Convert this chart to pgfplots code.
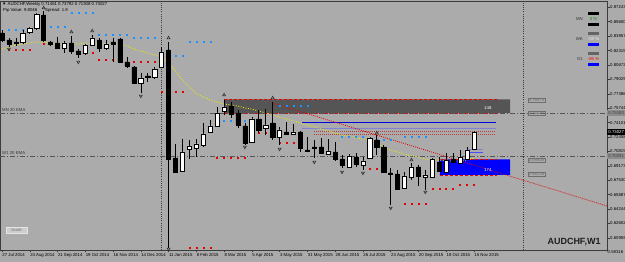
\documentclass[border=0pt]{standalone}
\usepackage{pgfplots}
\pgfplotsset{compat=1.18}
\usepackage{pgfplotstable}
\usepackage{fontspec}
\setmainfont{Liberation Sans}
\definecolor{bgc}{RGB}{171,171,171}
\definecolor{framec}{RGB}{60,60,60}
\definecolor{zonegray}{RGB}{85,85,85}
\definecolor{dashc}{RGB}{85,85,85}
\definecolor{dotblue}{RGB}{30,144,255}
\definecolor{dotred}{RGB}{230,0,0}
\definecolor{emay}{RGB}{235,235,0}
\definecolor{purp}{RGB}{130,130,210}
\definecolor{fracc}{RGB}{45,45,45}
\definecolor{lblc}{RGB}{110,110,110}
\definecolor{axfill}{RGB}{140,140,140}
\definecolor{pangray}{RGB}{100,100,100}
\definecolor{pangreen}{RGB}{0,150,0}
\definecolor{symc}{RGB}{30,30,30}
\definecolor{btnc}{RGB}{205,205,205}
\newcommand\tinyf{\fontsize{4.3bp}{5bp}\selectfont}

\pgfplotstableread{
i o h l c
0 0.84313 0.84655 0.83287 0.83515
1 0.83515 0.83743 0.82717 0.83059
2 0.83287 0.83743 0.82831 0.83173
3 0.83287 0.84655 0.83059 0.84313
4 0.84427 0.84997 0.84199 0.84883
5 0.84883 0.86593 0.84655 0.86479
6 0.86365 0.86821 0.83287 0.83515
7 0.83287 0.83401 0.82831 0.83059
8 0.83173 0.83857 0.82489 0.82603
9 0.82603 0.83401 0.82033 0.83173
10 0.83173 0.83971 0.81919 0.82261
11 0.82261 0.82489 0.81463 0.81919
12 0.82033 0.83059 0.81805 0.82945
13 0.82945 0.84085 0.82831 0.83743
14 0.83515 0.83743 0.82147 0.82603
15 0.82603 0.83515 0.82375 0.83059
16 0.83287 0.83743 0.81007 0.83059
17 0.83629 0.83743 0.80893 0.81007
18 0.81007 0.81577 0.80323 0.80551
19 0.80437 0.80551 0.78499 0.78613
20 0.78613 0.79753 0.77473 0.79183
21 0.79411 0.79753 0.78727 0.79297
22 0.79297 0.80437 0.79069 0.80209
23 0.80437 0.82717 0.80323 0.82147
24 0.82375 0.83287 0.59803 0.69949
25 0.70063 0.71659 0.68353 0.68467
26 0.68581 0.72229 0.68467 0.70747
27 0.71089 0.72115 0.69949 0.71431
28 0.71203 0.72229 0.70177 0.71659
29 0.71545 0.74053 0.71317 0.72799
30 0.73027 0.74395 0.72913 0.73711
31 0.73711 0.75877 0.73597 0.75193
32 0.75421 0.76675 0.74965 0.75877
33 0.75991 0.76447 0.74623 0.75079
34 0.75193 0.75535 0.73483 0.73825
35 0.73711 0.74053 0.71545 0.71773
36 0.71887 0.74737 0.71773 0.74509
37 0.74509 0.75535 0.72913 0.73255
38 0.73483 0.75649 0.72685 0.73825
39 0.74053 0.76447 0.72115 0.72457
40 0.72457 0.73597 0.71545 0.73255
41 0.73027 0.74167 0.72685 0.72799
42 0.72799 0.73939 0.72685 0.73027
43 0.73027 0.73141 0.70747 0.71203
44 0.70975 0.72457 0.70747 0.70861
45 0.71317 0.72115 0.70063 0.71203
46 0.71317 0.72343 0.70633 0.70633
47 0.70519 0.72229 0.70519 0.70861
48 0.70747 0.71887 0.69721 0.69949
49 0.69949 0.70405 0.68923 0.69265
50 0.69037 0.70519 0.69037 0.70291
51 0.70177 0.70633 0.69037 0.69379
52 0.69265 0.70177 0.68695 0.69721
53 0.70063 0.72457 0.69949 0.72343
54 0.72115 0.72685 0.70405 0.71317
55 0.71317 0.71545 0.68353 0.68467
56 0.68353 0.68923 0.64705 0.68239
57 0.68239 0.68695 0.66415 0.66529
58 0.66643 0.68467 0.66529 0.68011
59 0.67897 0.69493 0.67555 0.69037
60 0.69037 0.69265 0.66871 0.68011
61 0.67897 0.68695 0.66415 0.68125
62 0.67897 0.70063 0.67783 0.69949
63 0.69607 0.70177 0.68467 0.68581
64 0.68467 0.70633 0.68353 0.69835
65 0.69949 0.70633 0.69493 0.69607
66 0.69493 0.70975 0.69493 0.70177
67 0.69949 0.71317 0.69835 0.70975
68 0.71089 0.73141 0.70975 0.73027
}\candles

\pgfplotstableread{
i p
0 0.82489
1 0.82717
2 0.82945
3 0.83059
4 0.83173
5 0.83287
6 0.83287
7 0.83173
8 0.83059
9 0.83059
10 0.83059
11 0.83059
12 0.83173
13 0.83173
14 0.83059
15 0.83059
16 0.83059
17 0.83059
18 0.82831
19 0.82489
20 0.82261
21 0.82033
22 0.81805
23 0.81577
24 0.80893
25 0.79981
26 0.78955
27 0.78157
28 0.77359
29 0.77017
30 0.76675
31 0.76447
32 0.76219
33 0.76105
34 0.75991
35 0.75763
36 0.75649
37 0.75421
38 0.75193
39 0.74965
40 0.74737
41 0.74509
42 0.74281
43 0.74053
44 0.73825
45 0.73597
46 0.73369
47 0.73141
48 0.72913
49 0.72685
50 0.72571
51 0.72343
52 0.72229
53 0.72115
54 0.71773
55 0.71317
56 0.70975
57 0.70747
58 0.70519
59 0.70291
60 0.70177
61 0.69949
62 0.69835
63 0.69835
64 0.69721
65 0.69721
66 0.69721
67 0.69835
68 0.70063
}\ema

\pgfplotstableread{
i p
1 0.84655
2 0.84655
3 0.84655
4 0.84655
7 0.84997
8 0.84997
9 0.84997
10 0.86593
11 0.86593
12 0.86593
13 0.86593
14 0.84085
15 0.84085
16 0.84085
17 0.84085
18 0.84085
19 0.83743
20 0.83743
21 0.83743
22 0.83743
23 0.81691
24 0.81691
25 0.81691
26 0.81691
27 0.83287
28 0.83287
29 0.83287
30 0.83287
31 0.74281
32 0.74281
33 0.74281
34 0.74281
35 0.74281
40 0.75991
41 0.75991
42 0.75991
43 0.75991
44 0.75991
49 0.72457
50 0.72457
51 0.72457
52 0.72457
53 0.72115
54 0.72115
55 0.72115
56 0.72115
58 0.72457
59 0.72457
60 0.72457
61 0.72457
}\bluedots

\pgfplotstableread{
i p
1 0.82375
2 0.82375
3 0.82375
4 0.82375
6 0.83059
7 0.83059
8 0.83059
11 0.82033
12 0.82033
13 0.82033
14 0.81235
15 0.81235
16 0.81235
17 0.81235
19 0.81007
20 0.81007
21 0.81007
22 0.81007
23 0.81007
23 0.77587
24 0.77587
25 0.77587
26 0.77587
27 0.59803
28 0.59803
29 0.59803
30 0.59803
31 0.70063
32 0.70063
33 0.70063
34 0.70063
35 0.70063
36 0.72913
37 0.72913
38 0.72913
40 0.71773
41 0.71773
42 0.71773
53 0.68809
54 0.68809
55 0.68809
58 0.64819
59 0.64819
60 0.64819
61 0.64819
62 0.66529
63 0.66529
64 0.66529
65 0.66529
66 0.66985
67 0.66985
68 0.66985
}\reddots

\pgfplotstableread{
i p
6 0.87163
10 0.84427
13 0.84541
24 0.83743
32 0.77245
39 0.76903
54 0.72913
59 0.69835
}\fracup

\pgfplotstableread{
i p
1 0.82489
11 0.81007
20 0.77131
24 0.59689
35 0.71317
40 0.71089
45 0.69607
49 0.68467
52 0.68353
56 0.64363
61 0.66187
}\fracdown

\pgfplotsset{chartbox/.style={
  at={(0bp,12bp)}, anchor=south west,
  scale only axis, width=607bp, height=249bp,
  xmin=-0.288, xmax=87.176, ymin=0.59575, ymax=0.87961}}

\begin{document}
\begin{tikzpicture}
\fill[bgc] (0,0) rectangle (625bp,262bp);
\useasboundingbox (0,0) rectangle (625bp,262bp);
\begin{axis}[chartbox,
  clip mode=individual,
  axis line style={draw=framec, line width=0.8bp},
  xtick={0,4,...,68},
  xticklabels={27 Jul 2014,24 Aug 2014,21 Sep 2014,19 Oct 2014,16 Nov 2014,14 Dec 2014,11 Jan 2015,8 Feb 2015,8 Mar 2015,5 Apr 2015,3 May 2015,31 May 2015,28 Jun 2015,26 Jul 2015,23 Aug 2015,20 Sep 2015,18 Oct 2015,15 Nov 2015},
  ytick={0.60959,0.62602,0.64244,0.65887,0.67530,0.69173,0.70815,0.72458,0.74101,0.75744,0.77386,0.79029,0.80672,0.82315,0.83957,0.85600,0.87243},
  yticklabels={0.60959,0.62602,0.64244,0.65887,0.67530,0.69173,0.70815,0.72458,0.74101,0.75744,0.77386,0.79029,0.80672,0.82315,0.83957,0.85600,0.87243},
  xtick pos=lower, ytick pos=right, yticklabel pos=right,
  tick align=outside, major tick length=2.5bp,
  tick style={draw=framec, line width=0.5bp},
  x tick label style={font=\tinyf, anchor=north west, inner sep=0pt, xshift=0.3bp, yshift=-1bp},
  y tick label style={font=\tinyf, anchor=west, inner sep=0pt, xshift=0.5bp},
  scaled y ticks=false,
]
% zones
\addplot[fill=zonegray, draw=none, forget plot] coordinates {(32,0.76732) (73.2,0.76732) (73.2,0.75193) (32,0.75193) (32,0.76732)};
\addplot[fill=blue, draw=none, forget plot] coordinates {(63.1,0.69915) (73.2,0.69915) (73.2,0.68125) (63.1,0.68125) (63.1,0.69915)};
\addplot[dotred, dash pattern=on 3bp off 2bp, line width=0.8bp] coordinates {(32,0.76732) (71.3,0.76732)};
\addplot[dotred, dash pattern=on 3bp off 2bp, line width=0.8bp] coordinates {(32,0.75193) (71.3,0.75193)};
\addplot[dotred, dash pattern=on 3bp off 2bp, line width=0.8bp] coordinates {(63.1,0.69915) (71.3,0.69915)};
\addplot[dotred, dash pattern=on 3bp off 2bp, line width=0.8bp] coordinates {(63.1,0.68125) (71.3,0.68125)};
% EMA reference lines
\addplot[dashc, dash pattern=on 5bp off 2bp on 1bp off 2bp, line width=0.5bp] coordinates {(-0.288,0.75193) (87.176,0.75193)};
\addplot[dashc, dash pattern=on 5bp off 2bp on 1bp off 2bp, line width=0.5bp] coordinates {(-0.288,0.70291) (87.176,0.70291)};
% vertical separators
\addplot[framec, dash pattern=on 1bp off 1.2bp, line width=0.5bp] coordinates {(23,0.59575) (23,0.87961)};
\addplot[framec, dash pattern=on 1bp off 1.2bp, line width=0.5bp] coordinates {(75.07,0.59575) (75.07,0.87961)};
% horizontal level lines
\addplot[blue!85!black, line width=0.8bp] coordinates {(43.2,0.74167) (71.2,0.74167)};
\addplot[purp, line width=1.2bp] coordinates {(43.2,0.73426) (71.2,0.73426)};
\addplot[dotred!55!gray, dash pattern=on 1bp off 1bp, line width=0.7bp] coordinates {(45,0.73141) (71.2,0.73141)};
\addplot[dotred!55!gray, dash pattern=on 1bp off 1bp, line width=0.7bp] coordinates {(45,0.72742) (71.2,0.72742)};
\addplot[purp, line width=0.8bp] coordinates {(67,0.71089) (69.3,0.71089)};
\addplot[blue!70!white, line width=0.8bp] coordinates {(67,0.70747) (69.3,0.70747)};
% trend line
\addplot[dotred, dash pattern=on 0.9bp off 1.2bp, line width=0.8bp] coordinates {(39,0.76333) (87.176,0.64591)};
% EMA
\addplot[emay, dash pattern=on 0.9bp off 1.6bp, line width=0.9bp] table[x=i, y=p] \ema;
% dots
\addplot[color=dotblue, only marks, mark=square*, mark size=0.5bp] table[x=i, y=p] \bluedots;
\addplot[color=dotred, only marks, mark=square*, mark size=0.5bp] table[x=i, y=p] \reddots;
% fractals
\addplot[color=fracc, only marks, mark=triangle, mark size=1.7bp, mark options={line width=0.6bp}] table[x=i, y=p] \fracup;
\addplot[color=fracc, only marks, mark=triangle, mark size=1.7bp, mark options={line width=0.6bp, rotate=180}] table[x=i, y=p] \fracdown;
% wicks
\addplot[draw=none, mark=none, error bars/.cd, y dir=minus, y explicit, error mark=none, error bar style={draw=black, line width=0.6bp, solid}] table[x=i, y=h, y error expr=\thisrow{h}-\thisrow{l}] \candles;
% texts in chart
\node[font=\tinyf, text=white] at (axis cs:70,0.75763) {148};
\node[font=\tinyf, text=white] at (axis cs:70,0.68695) {174};
\node[font=\tinyf, anchor=west, inner sep=0pt, text=black!80] at (axis cs:0,0.75535) {MN 20 EMA};
\node[font=\tinyf, anchor=west, inner sep=0pt, text=black!80] at (axis cs:0,0.70576) {W1 20 EMA};
\node[font=\tinyf, anchor=west, draw=lblc, text=lblc, inner sep=0.5bp, line width=0.4bp] at (axis cs:75.8,0.76675) {0.76675};
\node[font=\tinyf, anchor=west, draw=lblc, text=lblc, inner sep=0.5bp, line width=0.4bp] at (axis cs:75.8,0.75193) {0.75193};
\node[font=\tinyf, anchor=west, draw=lblc, text=lblc, inner sep=0.5bp, line width=0.4bp] at (axis cs:75.8,0.69835) {0.69835};
\node[font=\tinyf, anchor=west, draw=lblc, text=lblc, inner sep=0.5bp, line width=0.4bp] at (axis cs:75.8,0.68239) {0.68239};
% price-scale markers
\node[font=\tinyf, anchor=west, fill=axfill, text=black!75, inner sep=0pt, minimum width=18bp, minimum height=5.5bp] at (axis cs:87.176,0.75193) {0.75193};
\node[font=\tinyf, anchor=west, fill=axfill, text=black!75, inner sep=0pt, minimum width=18bp, minimum height=5.5bp] at (axis cs:87.176,0.70291) {0.70291};
\node[font=\tinyf, anchor=west, fill=black, text=white, inner sep=0pt, minimum width=18bp, minimum height=5.5bp] at (axis cs:87.176,0.73027) {0.73027};
\node[font=\tinyf, anchor=west, inner sep=0pt, xshift=0.5bp] at (axis cs:87.176,0.59316) {0.59316};
\end{axis}
% candle bodies
\begin{axis}[chartbox, hide axis, ybar stacked, bar width=4.2bp]
\addplot[draw=none, fill=none] table[x=i, y expr={min(\thisrow{o},\thisrow{c})}] \candles;
\addplot[draw=black, fill=black, line width=0.5bp] table[x=i, y expr={max(\thisrow{o}-\thisrow{c},0)}] \candles;
\addplot[draw=black, fill=white, line width=0.5bp] table[x=i, y expr={max(\thisrow{c}-\thisrow{o},0)}] \candles;
\end{axis}
% header texts
\node[font=\tinyf, anchor=west, inner sep=0pt] at (2bp,258bp) {▼ AUDCHF,Weekly  0.71461 0.73792 0.71308 0.73027};
\node[font=\tinyf, anchor=west, inner sep=0pt] at (3bp,252bp) {Pip Value: 9.8046};
\node[font=\tinyf, anchor=west, inner sep=0pt] at (45bp,252bp) {Spread: 1.9};
% strength panel
\node[font=\tinyf, anchor=east, inner sep=0pt, text=black!80] at (583bp,243bp) {MN};
\fill[black] (588bp,247bp) rectangle (599bp,250bp);
\fill[black] (588bp,236bp) rectangle (599bp,239bp);
\node[font=\tinyf, inner sep=0pt, text=pangreen] at (593.5bp,243bp) {0 \%};
\node[font=\tinyf, anchor=east, inner sep=0pt, text=black!80] at (583bp,223bp) {WK};
\fill[pangray] (588bp,227bp) rectangle (599bp,230bp);
\node[font=\tinyf, inner sep=0pt, text=white!90!black] at (593.5bp,223bp) {-59 \%};
\fill[blue] (588bp,216bp) rectangle (599bp,219bp);
\node[font=\tinyf, anchor=east, inner sep=0pt, text=black!80] at (583bp,203bp) {D1};
\fill[pangray] (588bp,207bp) rectangle (599bp,210bp);
\node[font=\tinyf, inner sep=0pt, text=red] at (593.5bp,203bp) {-85 \%};
\fill[blue] (588bp,196bp) rectangle (599bp,199bp);
% symbol label
\node[font=\fontsize{9bp}{10bp}\selectfont\bfseries, text=symc] at (574bp,20bp) {AUDCHF,W1};
% scale button
\draw[fill=btnc, draw=white!90!black, line width=0.4bp] (6bp,28.5bp) rectangle (27bp,35bp);
\node[font=\tinyf, text=black!55] at (16.5bp,31.8bp) {Scale};
\end{tikzpicture}
\end{document}
